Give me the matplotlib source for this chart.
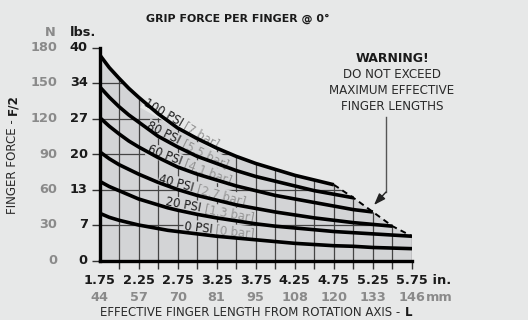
import numpy as np
import matplotlib.pyplot as plt
from matplotlib.patches import Polygon

plt.rcParams['font.family'] = ['Liberation Sans Narrow', 'DejaVu Sans']

# effective finger length, inches (finer steps where the curves bend most)
length_in = [1.75, 1.875, 2.0, 2.125, 2.25, 2.375, 2.5, 2.625, 2.75, 3.0, 3.25, 3.5, 3.75,
             4.0, 4.25, 4.5, 4.75, 5.0, 5.25, 5.5, 5.75]
grid_in = [2.0, 2.25, 2.5, 2.75, 3.0, 3.25, 3.5, 3.75, 4.0, 4.25, 4.5, 4.75, 5.0, 5.25, 5.5, 5.75]
tick_in = [1.75, 2.25, 2.75, 3.25, 3.75, 4.25, 4.75, 5.25, 5.75]
tick_mm = [44, 57, 70, 81, 95, 108, 120, 133, 146]
tick_n = [0, 30, 60, 90, 120, 150, 180]
tick_lbs = [0, 7, 13, 20, 27, 34, 40]

# finger force (N) per supply pressure; each curve stops at its max finger length
force_100psi = [174, 163, 154, 145.5, 138, 131, 124, 118, 112, 103, 95, 88, 82, 77, 72, 68, 64]
force_80psi = [147, 138, 130, 123, 117, 111, 105, 100.5, 96, 88, 82, 76, 71, 67, 63, 59, 56, 53]
force_60psi = [121, 113.5, 107, 101, 96, 91.5, 87, 83, 79, 73, 68, 63, 59, 55, 52, 49, 46, 43, 41]
force_40psi = [92, 86, 81, 77, 73, 69.5, 66, 63, 60, 55, 51, 47, 44, 41, 38.5, 36, 34, 32, 30.5, 29]
force_20psi = [67, 62.5, 59, 55.5, 52, 49.5, 47, 44.5, 42.5, 39, 36, 33.5, 31, 29, 27.5, 26, 24.5,
               23.5, 22.5, 21.5, 20.5]
force_0psi = [40, 36.5, 34, 32, 30, 28.5, 27, 25.5, 24.5, 22.5, 20.5, 19, 17.5, 16, 14.5, 13.5, 12.5,
              12, 11, 10.5, 10]

psi_names = ['100 PSI', '80 PSI', '60 PSI', '40 PSI', '20 PSI', '0 PSI']
bar_names = ['[7 bar]', '[5.5 bar]', '[4.1 bar]', '[2.7 bar]', '[1.3 bar]', '[0 bar]']
label_at = [2.84, 2.82, 2.84, 3.0, 3.1, 3.24]

curves = [force_100psi, force_80psi, force_60psi, force_40psi, force_20psi, force_0psi]

BG = '#e7e8e8'
SHADE = '#d3d4d6'
GRAY = '#8a8a8a'
INK = '#1a1a1a'

W, H = 528, 320


def fx(px):
    return px / W


def fy(py):
    return 1 - py / H


fig = plt.figure(figsize=(W / 100, H / 100), dpi=100, facecolor=BG)
ax = fig.add_axes([fx(99.5), fy(260.5), (412 - 99.5) / W, 213 / H])
ax.set_facecolor(BG)
ax.set_xlim(1.75, 5.75)
ax.set_ylim(0, 180)

# shaded working area: under 100 PSI curve, then along the max-length limit
ends_x = [length_in[len(c) - 1] for c in curves[:5]]
ends_y = [c[-1] for c in curves[:5]]
n100 = len(force_100psi)
outline = list(zip(length_in[:n100], force_100psi)) + list(zip(ends_x[1:], ends_y[1:]))
outline += [(5.75, 0), (1.75, 0)]
area = Polygon(outline, closed=True, facecolor=SHADE, edgecolor='none', zorder=0)
ax.add_patch(area)

for x in grid_in:
    ln, = ax.plot([x, x], [0, 180], color='#444444', lw=0.9, zorder=1)
    ln.set_clip_path(area)
for y in tick_n[1:-1]:
    ln, = ax.plot([1.75, 5.75], [y, y], color='#444444', lw=0.9, zorder=1)
    ln.set_clip_path(area)

# limit line joining the curve ends
ax.plot(ends_x, ends_y, color='black', lw=1.4, ls=(0, (3, 2.2)), zorder=4)

for c in curves:
    ax.plot(length_in[:len(c)], c, color='black', lw=2.6, solid_capstyle='butt',
            solid_joinstyle='round', zorder=5)

# pressure labels follow the slope of their curve
fig.canvas.draw()
for i, c in enumerate(curves):
    xs = np.array(length_in[:len(c)])
    ys = np.array(c)
    x0 = label_at[i]
    y0 = np.interp(x0, xs, ys)
    p1 = ax.transData.transform((x0 - 0.15, np.interp(x0 - 0.15, xs, ys)))
    p2 = ax.transData.transform((x0 + 0.15, np.interp(x0 + 0.15, xs, ys)))
    ang = np.degrees(np.arctan2(p2[1] - p1[1], p2[0] - p1[0]))
    box_col = BG if i == 0 else SHADE
    kw = dict(xy=(x0, y0), xytext=(0, 4.8), textcoords='offset points',
              rotation=ang, rotation_mode='anchor', va='center', fontsize=8.3, zorder=3,
              bbox=dict(boxstyle='square,pad=0.05', fc=box_col, ec='none'))
    ax.annotate(psi_names[i] + ' ', ha='right', color=INK, **kw)
    ax.annotate(bar_names[i], ha='left', color='#959595', **kw)

for s in ['top', 'right']:
    ax.spines[s].set_visible(False)
for s in ['left', 'bottom']:
    ax.spines[s].set_linewidth(2.4)
    ax.spines[s].set_capstyle('projecting')
    ax.spines[s].set_zorder(6)

ax.set_xticks(grid_in)
ax.set_xticklabels([])
ax.set_yticks(tick_n)
ax.set_yticklabels([])
ax.tick_params(axis='both', direction='out', length=5.5, width=1.0, color='#333333')

FS = 9.3
for x, mm in zip(tick_in, tick_mm):
    t = ax.annotate(f'{x:.2f}', xy=(x, 0), xycoords=('data', 'axes fraction'),
                    xytext=(0, -14.5), textcoords='offset points', ha='center', va='center',
                    fontsize=FS, fontweight='bold', color=INK)
    m = ax.annotate(str(mm), xy=(x, 0), xycoords=('data', 'axes fraction'),
                    xytext=(0, -26.5), textcoords='offset points', ha='center', va='center',
                    fontsize=FS, fontweight='bold', color=GRAY)
ax.annotate(' in.', xy=(1, 0.5), xycoords=t, ha='left', va='center',
            fontsize=FS, fontweight='bold', color=INK)
ax.annotate('mm', xy=(1, 0.5), xycoords=m, ha='left', va='center',
            fontsize=FS, fontweight='bold', color=GRAY)

for n, lb in zip(tick_n, tick_lbs):
    ax.annotate(str(lb), xy=(0, n), xycoords=('axes fraction', 'data'),
                xytext=(-8.5, 0), textcoords='offset points', ha='right', va='center',
                fontsize=FS, fontweight='bold', color=INK)
    ax.annotate(str(n), xy=(0, n), xycoords=('axes fraction', 'data'),
                xytext=(-30.5, 0), textcoords='offset points', ha='right', va='center',
                fontsize=FS, fontweight='bold', color=GRAY)

fig.text(fx(50), fy(32), 'N', ha='center', va='center', fontsize=FS, fontweight='bold', color=GRAY)
fig.text(fx(83), fy(32), 'lbs.', ha='center', va='center', fontsize=FS, fontweight='bold', color=INK)

fig.text(fx(238), fy(19), 'GRIP FORCE PER FINGER @ 0°', ha='center', va='center',
         fontsize=7.9, fontweight='bold', color=INK)

yl = fig.text(fx(13), fy(214), 'FINGER FORCE -', rotation=90, ha='center', va='bottom',
              fontsize=8.6, color='#2a2a2a')
ax.annotate('F/2', xy=(0.5, 1), xycoords=yl, xytext=(0, 3), textcoords='offset points',
            rotation=90, ha='center', va='bottom', fontsize=8.6, fontweight='bold', color=INK)

xl = fig.text(fx(100), fy(313), 'EFFECTIVE FINGER LENGTH FROM ROTATION AXIS -', ha='left', va='center',
              fontsize=8.5, color='#2a2a2a')
ax.annotate('L', xy=(1, 0.5), xycoords=xl, xytext=(3, 0), textcoords='offset points',
            ha='left', va='center', fontsize=8.5, fontweight='bold', color=INK)

# warning note with arrow pointing at the limit line
fig.text(fx(392), fy(59), 'WARNING!', ha='center', va='center', fontsize=9.0, fontweight='bold', color=INK)
for py, line in zip([75, 91, 107], ['DO NOT EXCEED', 'MAXIMUM EFFECTIVE', 'FINGER LENGTHS']):
    fig.text(fx(392), fy(py), line, ha='center', va='center', fontsize=8.6, color='#2a2a2a')

inv = ax.transData.inverted()
top = inv.transform((386, H - 117))
bend = inv.transform((386, H - 192))
tip = inv.transform((374, H - 205))
ax.plot([top[0], bend[0]], [top[1], bend[1]], color='#555555', lw=1.0, clip_on=False, zorder=4)
ax.annotate('', xy=tip, xytext=bend, zorder=4,
            arrowprops=dict(arrowstyle='-|>,head_length=0.7,head_width=0.25', color='#222222',
                            lw=1.0, shrinkA=0, shrinkB=0))

fig.savefig('out.png', dpi=100, facecolor=BG)
